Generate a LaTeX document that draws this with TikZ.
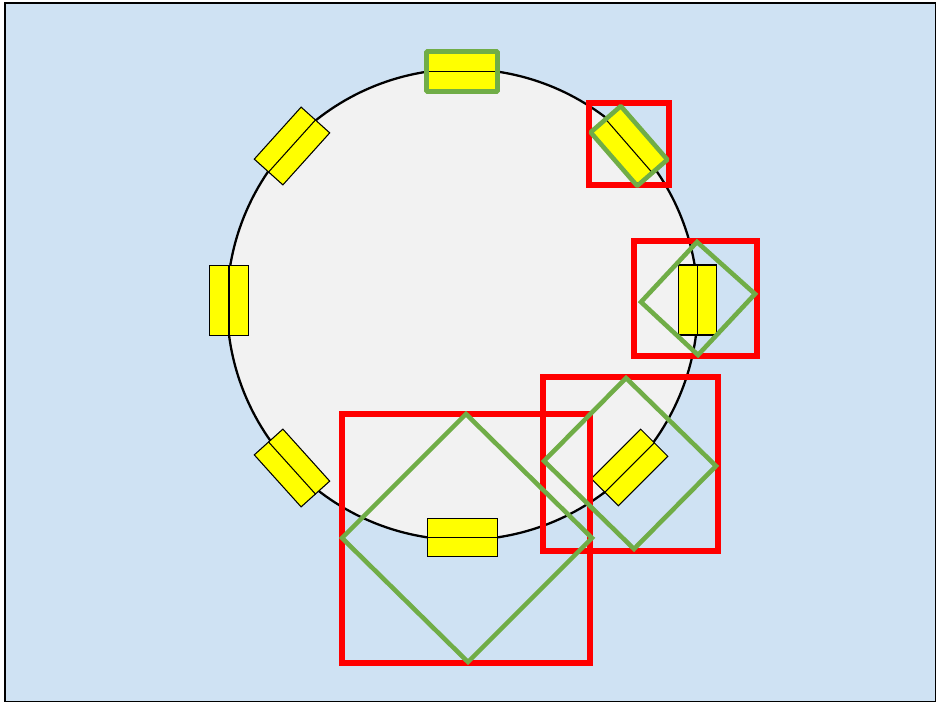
\documentclass[tikz,border=0pt]{standalone}
\usepackage{tikz}
\usetikzlibrary{positioning}
\definecolor{bgblue}{HTML}{CFE2F3}
\definecolor{ringgray}{HTML}{F2F2F2}
\definecolor{padyellow}{HTML}{FFFF00}
\definecolor{hitgreen}{HTML}{70AD47}
\tikzset{
  ring/.style={circle, draw=black, fill=ringgray, line width=1.3pt, inner sep=0pt, minimum size=9.42cm},
  pad/.style={draw=black, fill=padyellow, line width=0.6pt, inner sep=0pt, minimum width=14mm, minimum height=7.7mm},
  padline/.style={draw=black, line width=0.6pt},
  greenpad/.style={draw=hitgreen, line width=2.6pt, rounded corners=0.5pt, inner sep=0pt, minimum width=14.2mm, minimum height=8mm},
  redbox/.style={draw=red, line width=2.9pt, inner sep=0pt},
  greenbox/.style={draw=hitgreen, line width=2.6pt, line join=miter}
}
\begin{document}
\begin{tikzpicture}[x=0.02cm,y=-0.02cm]
\useasboundingbox (0,0) rectangle (936,702);
\fill[bgblue, draw=black, line width=0.6pt] (5,3) rectangle (935.6,701.4);
\node[ring] (ring) at (462.5,304.5) {};
% pads round the ring
\node[pad] (p1) at (462,71.5) {};
\node[pad, rotate=48] (p2) at (292,146) {};
\node[pad, rotate=90] (p3) at (229,300.5) {};
\node[pad, rotate=-48] (p4) at (292,468) {};
\node[pad] (p5) at (462.5,537.5) {};
\node[pad, rotate=45] (p6) at (629.5,467.5) {};
\node[pad, rotate=90] (p7) at (697.5,300) {};
\node[pad, rotate=-49] (p8) at (629,146) {};
\foreach \p in {p1,p2,p3,p4,p5,p6,p7,p8}
  \draw[padline] (\p.west) -- (\p.east);
% red boxes
\node[redbox, minimum width=16mm, minimum height=16.4mm] (r1) at (629,144) {};
\node[redbox, minimum width=24.6mm, minimum height=23mm] (r2) at (695.5,298.5) {};
\node[redbox, minimum width=35mm, minimum height=34.8mm] (r3) at (630.5,464) {};
\node[redbox, minimum width=49.6mm, minimum height=49.8mm] (r4) at (466,538.5) {};
% green outlines
\node[greenpad] (g1) at (462,71.5) {};
\node[greenpad, rotate=-49] (g2) at (629,146) {};
\draw[greenbox] (697,242) -- (755,294) -- (698,355) -- (641,302) -- cycle;
\draw[greenbox] (626,378) -- (716,466) -- (634,549) -- (544,461) -- cycle;
\draw[greenbox] (466,414) -- (592,538) -- (468,662) -- (342,538) -- cycle;
\end{tikzpicture}
\end{document}
